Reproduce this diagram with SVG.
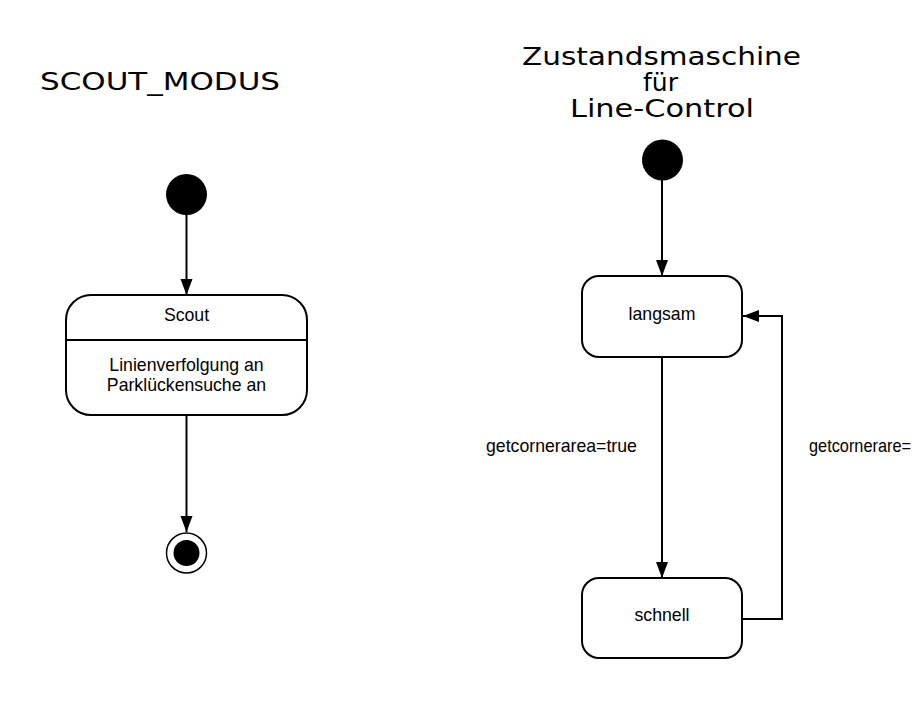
<svg xmlns="http://www.w3.org/2000/svg" width="918" height="718" viewBox="0 0 918 718">
  <style>
    .title { font-family: "DejaVu Sans", "Liberation Sans", sans-serif; font-size: 24px; fill: #000; }
    .lbl { font-family: "Liberation Sans", Arial, sans-serif; font-size: 17.7px; fill: #000; }
    .state { fill: #fff; stroke: #000; stroke-width: 2; }
    .edge { fill: none; stroke: #000; stroke-width: 2; }
    .dot { fill: #000; }
  </style>
  <defs>
    <marker id="arrow" markerUnits="userSpaceOnUse" markerWidth="18" markerHeight="14" refX="16" refY="6" orient="auto">
      <path d="M0,0 L16,6 L0,12 z" fill="#000"/>
    </marker>
  </defs>
  <rect width="918" height="718" fill="#fff"/>

  <g id="title-scout">
    <text class="title" x="40" y="90" textLength="240" lengthAdjust="spacingAndGlyphs">SCOUT_MODUS</text>
  </g>
  <g id="title-line-control">
    <text class="title" x="522" y="65" textLength="279" lengthAdjust="spacingAndGlyphs">Zustandsmaschine</text>
    <text class="title" x="643" y="91" textLength="35" lengthAdjust="spacingAndGlyphs">für</text>
    <text class="title" x="570" y="117" textLength="184" lengthAdjust="spacingAndGlyphs">Line-Control</text>
  </g>

  <g id="connectors">
    <line class="edge" x1="186.5" y1="214" x2="186.5" y2="295" marker-end="url(#arrow)"/>
    <line class="edge" x1="186.5" y1="415" x2="186.5" y2="532" marker-end="url(#arrow)"/>
    <line class="edge" x1="662" y1="180" x2="662" y2="276" marker-end="url(#arrow)"/>
    <line class="edge" x1="662" y1="357" x2="662" y2="578" marker-end="url(#arrow)"/>
    <polyline class="edge" points="742,619 782,619 782,316 743,316" marker-end="url(#arrow)"/>
    <text class="lbl" x="486" y="452">getcornerarea=true</text>
    <text class="lbl" x="809" y="452" textLength="102" lengthAdjust="spacingAndGlyphs">getcornerare=</text>
  </g>

  <g id="initial-left">
    <circle class="dot" cx="186.5" cy="194.5" r="20.5"/>
  </g>
  <g id="state-scout">
    <rect class="state" x="66" y="295" width="241" height="120" rx="25" ry="25"/>
    <line x1="66" y1="340" x2="307" y2="340" stroke="#000" stroke-width="2"/>
    <text class="lbl" x="186.5" y="321" text-anchor="middle">Scout</text>
    <text class="lbl" x="186.5" y="371" text-anchor="middle">Linienverfolgung an</text>
    <text class="lbl" x="186.5" y="391" text-anchor="middle">Parklückensuche an</text>
  </g>
  <g id="final-left">
    <circle cx="186.5" cy="553" r="20" fill="#fff" stroke="#000" stroke-width="1.5"/>
    <circle class="dot" cx="186.5" cy="553" r="13"/>
  </g>

  <g id="initial-right">
    <circle class="dot" cx="662.5" cy="160" r="20.5"/>
  </g>
  <g id="state-langsam">
    <rect class="state" x="582" y="276" width="160" height="81" rx="17" ry="17"/>
    <text class="lbl" x="662" y="320" text-anchor="middle">langsam</text>
  </g>
  <g id="state-schnell">
    <rect class="state" x="582" y="578" width="160" height="80" rx="17" ry="17"/>
    <text class="lbl" x="662" y="621" text-anchor="middle">schnell</text>
  </g>
</svg>
